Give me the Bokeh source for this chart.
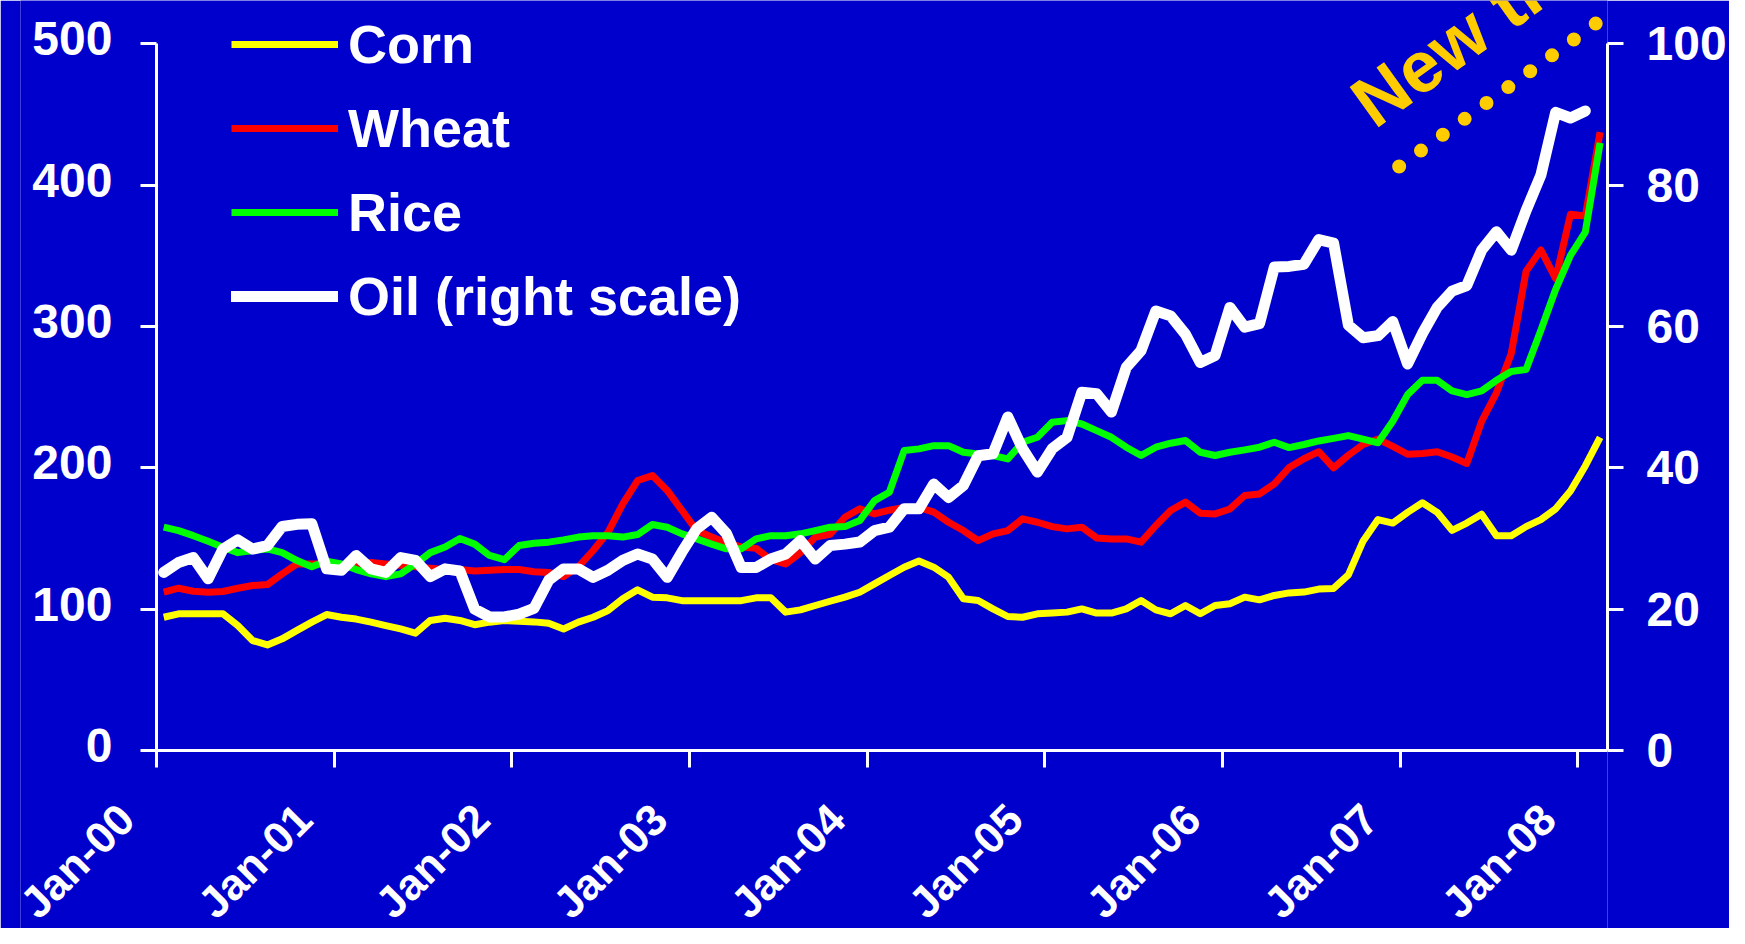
import math
from bokeh.plotting import figure
from bokeh.models import (Range1d, LinearAxis, FixedTicker, Legend, LegendItem,
                          Label, Arrow)
from bokeh.embed import file_html
from bokeh.resources import INLINE

# ---------------- data (monthly, Jan-00 .. Feb-08) ----------------
tick_labels = ["Jan-00", "Jan-01", "Jan-02", "Jan-03", "Jan-04",
               "Jan-05", "Jan-06", "Jan-07", "Jan-08"]
left_ticks = [0, 100, 200, 300, 400, 500]
right_ticks = [0, 20, 40, 60, 80, 100]

corn = [94.3, 96.7, 96.7, 96.7, 96.7, 88.4, 77.8, 74.7, 79.0, 85.0,
        90.8, 96.2, 94.3, 93.0, 90.8, 88.4, 86.0, 83.0, 92.0, 93.6,
        92.0, 89.0, 90.8, 92.0, 91.5, 91.0, 90.0, 86.0, 90.8, 94.3,
        99.0, 107.3, 113.7, 108.5, 108.0, 106.0, 106.0, 106.0, 106.0, 106.0,
        108.0, 108.0, 97.9, 99.5, 102.6, 105.6, 108.5, 112.0, 117.9, 123.8,
        129.7, 134.0, 129.7, 122.6, 107.3, 106.1, 100.2, 94.8, 94.3, 96.7,
        97.2, 97.9, 100.2, 97.2, 97.2, 100.2, 106.1, 99.5, 96.7, 102.6,
        96.7, 102.6, 103.8, 108.5, 106.6, 109.7, 111.5, 112.1, 114.2, 114.7,
        124.3, 148.3, 163.4, 160.9, 168.5, 175.3, 168.5, 155.8, 160.9, 167.2,
        152.0, 152.0, 158.4, 163.4, 171.0, 183.6, 201.3, 221.5]

wheat = [112.0, 114.8, 112.7, 112.0, 112.5, 114.8, 116.7, 117.4, 125.0, 132.0,
         132.0, 132.0, 131.0, 132.0, 133.0, 132.0, 131.0, 130.0, 129.0, 128.0,
         128.0, 127.0, 127.5, 128.0, 128.0, 126.5, 126.0, 123.0, 130.0, 141.5,
         154.4, 174.5, 191.0, 194.5, 184.0, 169.8, 155.6, 151.0, 147.0, 144.0,
         143.0, 135.0, 132.0, 140.0, 151.0, 153.0, 165.0, 171.0, 167.4, 170.0,
         172.0, 172.0, 168.6, 161.5, 155.6, 148.5, 153.3, 155.6, 163.9, 161.5,
         158.4, 156.8, 158.0, 150.4, 149.7, 149.7, 147.4, 159.2, 169.8, 175.7,
         167.9, 167.4, 170.9, 180.4, 181.5, 188.6, 200.2, 206.4, 211.4, 200.0,
         208.9, 216.5, 220.3, 215.2, 209.6, 210.2, 211.4, 207.6, 203.1, 232.9,
         253.1, 280.9, 339.0, 354.1, 333.9, 379.4, 378.1, 437.5]

rice = [158.0, 155.6, 152.0, 148.0, 143.8, 140.0, 141.5, 142.6, 140.0, 134.4,
        130.0, 134.0, 132.0, 128.0, 125.0, 123.0, 125.0, 132.0, 140.0, 144.0,
        150.0, 146.0, 138.0, 135.0, 145.0, 146.6, 147.4, 149.0, 151.0, 152.0,
        152.0, 151.0, 152.8, 159.9, 158.0, 153.3, 149.7, 146.0, 142.7, 142.7,
        149.7, 152.0, 152.0, 153.3, 155.6, 158.0, 158.4, 162.7, 176.8, 182.7,
        212.2, 213.4, 215.7, 215.7, 211.0, 209.8, 208.7, 206.3, 218.1, 221.6,
        232.2, 233.4, 231.0, 226.3, 221.6, 214.6, 208.7, 214.6, 217.4, 219.3,
        211.0, 208.7, 211.0, 212.7, 214.6, 218.1, 214.3, 216.5, 219.0, 220.8,
        222.8, 220.3, 217.7, 232.9, 251.8, 261.9, 261.9, 254.4, 251.8, 254.4,
        261.9, 268.2, 269.5, 297.3, 326.3, 350.3, 366.8, 429.9]

oil = [25.2, 26.6, 27.3, 24.3, 28.5, 29.8, 28.5, 29.0, 31.7, 32.0,
       32.1, 25.7, 25.5, 27.6, 25.7, 25.2, 27.3, 26.9, 24.6, 25.7,
       25.4, 20.0, 18.9, 18.9, 19.3, 20.1, 24.1, 25.7, 25.7, 24.5,
       25.5, 26.9, 27.8, 27.1, 24.5, 28.1, 31.4, 33.0, 30.7, 25.9,
       25.9, 27.1, 27.8, 29.7, 27.1, 29.0, 29.2, 29.5, 31.1, 31.6,
       34.2, 34.2, 37.7, 35.8, 37.5, 41.7, 42.0, 47.2, 42.7, 39.4,
       42.7, 44.3, 50.7, 50.5, 47.9, 54.2, 56.6, 62.2, 61.5, 58.9,
       54.9, 55.9, 62.7, 59.9, 60.4, 68.4, 68.5, 68.8, 72.3, 71.8,
       60.2, 58.4, 58.7, 60.7, 54.7, 59.0, 62.7, 65.0, 65.8, 70.8,
       73.4, 70.8, 76.4, 81.4, 90.3, 89.5, 90.5]

n_months = 98
x_grain = [i + 0.5 for i in range(len(corn))]
x_oil = [i + 0.5 for i in range(len(oil))]

BG = "#0000CC"
FONT = "Liberation Sans"

# ---- layout: the frame fills the canvas (except a thin left strip and the
# right axis panel); the axes are pinned at value 0 and bounded.
CANVAS_W, CANVAS_H = 1729.0, 928.0
FRAME_LEFT = 20.0     # left panel only holds outward ticks
AXIS_X = 156.0        # pixel column of the left axis (month 0)
FRAME_RIGHT = 1609.0  # pixel column of the right axis (month 98)
ZERO_PX = 750.0       # pixel row of value 0
TOP_PX = 43.3         # pixel row of value 500

px_per_month = (FRAME_RIGHT - AXIS_X) / n_months
px_per_unit = (ZERO_PX - TOP_PX) / 500.0
x_lo = -(AXIS_X - FRAME_LEFT) / px_per_month
left_top = 500 + TOP_PX / px_per_unit
left_bot = -(CANVAS_H - ZERO_PX) / px_per_unit

p = figure(width=int(CANVAS_W), height=int(CANVAS_H), output_backend="svg",
           toolbar_location=None,
           x_range=Range1d(x_lo, n_months), y_range=Range1d(left_bot, left_top),
           x_axis_location="above",
           background_fill_color=BG, border_fill_color=BG,
           min_border_left=int(FRAME_LEFT), min_border_right=int(CANVAS_W - FRAME_RIGHT),
           min_border_top=0, min_border_bottom=0)
p.outline_line_color = None
p.xgrid.visible = False
p.ygrid.visible = False
p.extra_y_ranges = {"oil": Range1d(left_bot / 5.0, left_top / 5.0)}

r_corn = p.line(x_grain, corn, line_color="#FFFF00", line_width=7, line_join="round")
r_wheat = p.line(x_grain, wheat, line_color="#FF0000", line_width=7, line_join="round")
r_rice = p.line(x_grain, rice, line_color="#00FF00", line_width=7, line_join="round")
r_oil = p.line(x_oil, oil, line_color="#FFFFFF", line_width=11, line_join="round",
               line_cap="round", y_range_name="oil")


def style_axis(ax, size):
    ax.axis_line_color = "white"
    ax.axis_line_width = 3
    ax.major_tick_line_color = "white"
    ax.major_tick_line_width = 3
    ax.major_tick_in = 0
    ax.minor_tick_line_color = None
    ax.major_label_text_color = "white"
    ax.major_label_text_font = FONT
    ax.major_label_text_font_style = "bold"
    ax.major_label_text_font_size = size


label_style = dict(text_color="white", text_font=FONT, text_font_style="bold")

# left axis (pinned at month 0), its numbers placed next to the ticks
ly = p.yaxis[0]
ly.ticker = FixedTicker(ticks=left_ticks)
ly.bounds = (left_ticks[0], left_ticks[-1])
ly.fixed_location = 0
style_axis(ly, "0px")
ly.major_label_overrides = {t: "" for t in left_ticks}
ly.major_tick_out = 16
ly.major_label_standoff = 0
for t in left_ticks:
    p.add_layout(Label(x=0, y=t, x_offset=-44, y_offset=5, text=str(t),
                       text_align="right", text_baseline="middle",
                       text_font_size="48px", **label_style))

# right axis
ry = LinearAxis(y_range_name="oil", ticker=FixedTicker(ticks=right_ticks),
                bounds=(right_ticks[0], right_ticks[-1]))
style_axis(ry, "48px")
ry.major_tick_out = 16
ry.major_label_standoff = 23
p.add_layout(ry, "right")

# x axis: pinned at value 0, ticks pointing down, rotated date labels
bx = p.xaxis[0]
xt = [12 * i for i in range(len(tick_labels))]
bx.ticker = FixedTicker(ticks=xt)
bx.bounds = (0, n_months)
style_axis(bx, "0px")
bx.major_label_overrides = {t: "" for t in xt}
bx.fixed_location = 0
bx.major_tick_out = 0
bx.major_tick_in = 17
bx.major_label_standoff = 0

for t, lab in zip(xt, tick_labels):
    p.add_layout(Label(x=t, y=-61.0 / px_per_unit, x_offset=-30, text=lab,
                       angle=math.pi / 4, text_align="right", text_baseline="middle",
                       text_font_size="44px", **label_style))

# legend
legend = Legend(items=[LegendItem(label="Corn", renderers=[r_corn]),
                       LegendItem(label="Wheat", renderers=[r_wheat]),
                       LegendItem(label="Rice", renderers=[r_rice]),
                       LegendItem(label="Oil (right scale)", renderers=[r_oil])],
                location=(231 - FRAME_LEFT, 423 + (CANVAS_H - ZERO_PX)))
legend.label_text_font = FONT
legend.label_text_font_style = "bold"
legend.label_text_font_size = "54px"
legend.label_text_color = "white"
legend.glyph_width = 107
legend.glyph_height = 62
legend.label_height = 62
legend.label_standoff = 10
legend.spacing = 22
legend.padding = 0
legend.margin = 0
legend.border_line_color = None
legend.background_fill_alpha = 0
p.add_layout(legend)

# "New trend" annotation with dotted line
ang = math.radians(35.8)
p.add_layout(Arrow(end=None, x_start=83.93, y_start=413.2, x_end=102.1, y_end=551.6,
                   line_color="#FFCC00", line_width=14, line_dash="0 27",
                   line_cap="round"))
p.add_layout(Label(x=81.3, y=453.4, text="New trend", angle=ang,
                   text_color="#FFCC00", text_font=FONT, text_font_style="bold",
                   text_font_size="72px", text_align="left",
                   text_baseline="middle"))

open("out.html", "w").write(file_html(p, INLINE, title="Food and oil prices"))
